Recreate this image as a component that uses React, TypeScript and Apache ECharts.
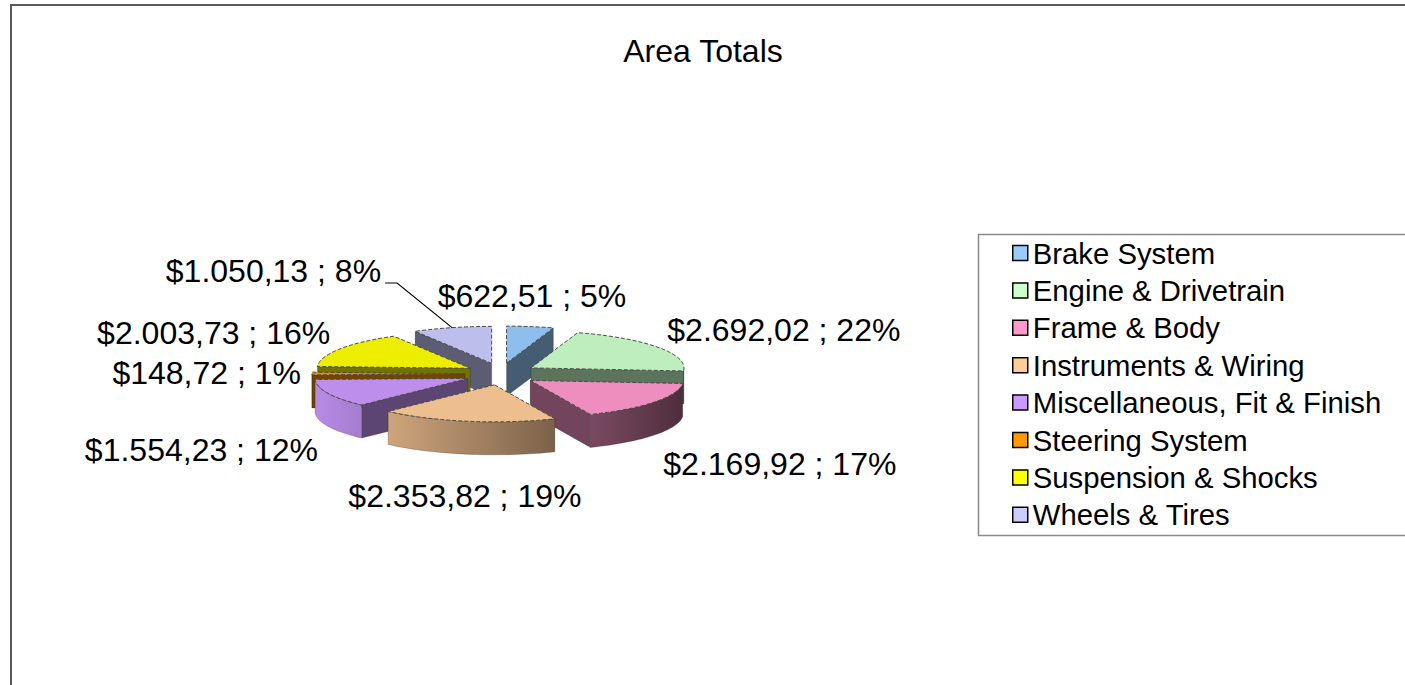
import React, { useEffect, useRef } from "react";
import * as echarts from "echarts";

// ---- data ----
const categories = [
  "Brake System",
  "Engine & Drivetrain",
  "Frame & Body",
  "Instruments & Wiring",
  "Miscellaneous, Fit & Finish",
  "Steering System",
  "Suspension & Shocks",
  "Wheels & Tires",
];
const totals = [622.51, 2692.02, 2169.92, 2353.82, 1554.23, 148.72, 2003.73, 1050.13];
const percentLabels = ["5%", "22%", "17%", "19%", "12%", "1%", "16%", "8%"];
const legendColors = ["#99CCFF", "#CCFFCC", "#FF99CC", "#FFCC99", "#CC99FF", "#FF9900", "#FFFF00", "#CCCCFF"];
const titleText = "Area Totals";

// ---- layout / style constants ----
const FONT = '"Liberation Sans", Arial, Helvetica, sans-serif';
const TAU = Math.PI * 2;
const CX = 501, CY = 374, RX = 153, RY = 37, H = 33, EX = 36, EY = 11;
const LRX = 200, LRY = 79, LT = 44, LFS = 32;
const LEADER_ROOM = 50;

function fmtMoney(v: number) {
  const [i, d] = v.toFixed(2).split(".");
  return "$" + i.replace(/\B(?=(\d{3})+(?!\d))/g, ".") + "," + d;
}

function hexToRgb(h: string) {
  const n = parseInt(h.slice(1), 16);
  return [(n >> 16) & 255, (n >> 8) & 255, n & 255];
}
function shade(hex: string, f: number) {
  const [r, g, b] = hexToRgb(hex);
  const c = (x: number) => Math.max(0, Math.min(255, Math.round(x * f)));
  return `rgb(${c(r)},${c(g)},${c(b)})`;
}
function wallF(a: number) {
  return 0.6 - 0.3 * Math.sin(a);
}

const sum = totals.reduce((a, b) => a + b, 0);
const startA: number[] = [];
const endA: number[] = [];
{
  let acc = 0;
  totals.forEach((v) => {
    startA.push((acc / sum) * TAU);
    acc += v;
    endA.push((acc / sum) * TAU);
  });
}
const midA = startA.map((s, i) => (s + endA[i]) / 2);

function sliceOrigin(i: number): number[] {
  const m = midA[i];
  return [CX + EX * Math.sin(m), CY - EY * Math.cos(m)];
}
function rim(o: number[], a: number, dz = 0): number[] {
  return [o[0] + RX * Math.sin(a), o[1] - RY * Math.cos(a) + dz];
}
function arc(o: number[], a: number, b: number, dz: number) {
  const n = Math.max(2, Math.ceil(Math.abs(b - a) / (Math.PI / 90)));
  const pts: number[][] = [];
  for (let k = 0; k <= n; k++) pts.push(rim(o, a + ((b - a) * k) / n, dz));
  return pts;
}

function renderSlice(i: number) {
  const o = sliceOrigin(i);
  const s = startA[i], e = endA[i];
  const base = legendColors[i];
  const children: any[] = [];
  const wallStroke = "rgba(0,0,0,0.35)";
  const radial = (a: number) => {
    const p = rim(o, a);
    return {
      type: "polygon",
      shape: { points: [o, p, [p[0], p[1] + H], [o[0], o[1] + H]] },
      style: { fill: shade(base, 0.45), stroke: wallStroke, lineWidth: 0.6 },
    };
  };
  if (Math.sin(s) < -1e-6) children.push(radial(s));
  if (Math.sin(e) > 1e-6) children.push(radial(e));
  const a = Math.max(s, Math.PI / 2), b = Math.min(e, 1.5 * Math.PI);
  if (b > a) {
    const top = arc(o, a, b, 0);
    const bot = arc(o, b, a, H);
    children.push({
      type: "polygon",
      shape: { points: [...top, ...bot] },
      style: {
        fill: new echarts.graphic.LinearGradient(0, 0, 1, 0, [
          { offset: 0, color: shade(base, wallF(b)) },
          { offset: 1, color: shade(base, wallF(a)) },
        ]),
        stroke: wallStroke,
        lineWidth: 0.6,
      },
    });
  }
  children.push({
    type: "polygon",
    shape: { points: [o, ...arc(o, s, e, 0)] },
    style: { fill: shade(base, 0.93), stroke: "#4a4a4a", lineWidth: 1, lineDash: [4, 2] },
  });
  return { type: "group", children };
}

function buildLabels() {
  const canvas = document.createElement("canvas");
  const ctx = canvas.getContext("2d")!;
  ctx.font = `${LFS}px ${FONT}`;
  const placed: number[][] = [];
  const out: any[] = [];
  const pad = 4;
  categories.forEach((_, i) => {
    const text = `${fmtMoney(totals[i])} ; ${percentLabels[i]}`;
    const w = ctx.measureText(text).width;
    const m = midA[i];
    const sn = Math.sin(m), cs = Math.cos(m);
    const align = sn > 0.2 ? "left" : sn < -0.2 ? "right" : "center";
    let f = 1;
    let ax = 0, ay = 0, box: number[] = [];
    const mkBox = () => {
      const x0 = align === "left" ? ax : align === "right" ? ax - w : ax - w / 2;
      box = [x0, ay - LFS / 2, x0 + w, ay + LFS / 2];
    };
    for (;;) {
      ax = CX + LRX * f * sn;
      ay = CY - LRY * f * cs + (cs < -0.1 ? LT : 0);
      mkBox();
      const hit = placed.some(
        (c) => !(box[2] + pad < c[0] || c[2] + pad < box[0] || box[3] + pad < c[1] || c[3] + pad < box[1])
      );
      if (!hit || f > 3) break;
      f += 0.05;
    }
    const displaced = f > 1.001;
    if (displaced) {
      // leave room for a leader line between the label and its slice
      ax += sn < 0 ? -LEADER_ROOM : LEADER_ROOM;
      mkBox();
    }
    placed.push(box);
    out.push({
      type: "text",
      z: 100,
      x: ax,
      y: ay,
      style: { text, fill: "#000", font: `${LFS}px ${FONT}`, textAlign: align, textVerticalAlign: "middle" },
    });
    if (displaced) {
      const target = rim(sliceOrigin(i), m);
      const side = sn < 0 ? 1 : -1;
      const ex = side > 0 ? box[2] + 4 : box[0] - 4;
      out.push({
        type: "polyline",
        z: 100,
        shape: { points: [[ex, ay + 12], [ex + side * 12, ay + 12], target] },
        style: { stroke: "#000", lineWidth: 1.2, fill: "none" },
      });
    }
  });
  return out;
}

function buildOption() {
  const order = categories.map((_, i) => i).sort((p, q) => Math.cos(midA[q]) - Math.cos(midA[p]));
  const rank: number[] = [];
  order.forEach((idx, r) => (rank[idx] = r));
  return {
    animation: false,
    backgroundColor: "#ffffff",
    legend: {
      orient: "vertical",
      left: 1012,
      top: 238.5,
      padding: 0,
      itemWidth: 15,
      itemHeight: 15,
      itemGap: 8.4,
      icon: "rect",
      selectedMode: false,
      itemStyle: { borderColor: "#000", borderWidth: 1.5 },
      textStyle: { fontSize: 29.3, fontFamily: FONT, color: "#000", lineHeight: 29, padding: [0, 0, 0, 0] },
      data: categories.map((c, i) => ({ name: c, itemStyle: { color: legendColors[i] } })),
    },
    graphic: [
      {
        type: "rect",
        z: 0,
        shape: { x: 11, y: 5, width: 1500, height: 800 },
        style: { fill: "none", stroke: "#5a5a5a", lineWidth: 2 },
      },
      {
        type: "rect",
        z: 0,
        shape: { x: 978.5, y: 234.5, width: 500, height: 301 },
        style: { fill: "none", stroke: "#8a8a8a", lineWidth: 1.5 },
      },
      {
        type: "text",
        z: 100,
        x: 703,
        y: 51,
        style: { text: titleText, fill: "#000", font: `32px ${FONT}`, textAlign: "center", textVerticalAlign: "middle" },
      },
      ...buildLabels(),
    ],
    series: categories.map((name, i) => ({
      type: "custom",
      name,
      coordinateSystem: "none",
      silent: true,
      z: 2 + rank[i],
      itemStyle: { color: legendColors[i] },
      data: [[totals[i]]],
      renderItem: () => renderSlice(i),
    })),
  };
}

export default function App() {
  const ref = useRef<HTMLDivElement>(null);
  useEffect(() => {
    const chart = echarts.init(ref.current!, undefined, { renderer: "svg" });
    chart.setOption(buildOption() as any);
    return () => chart.dispose();
  }, []);
  return (
    <div
      ref={ref}
      style={{ position: "fixed", left: 0, top: 0, width: 1405, height: 685, background: "#fff" }}
    />
  );
}
